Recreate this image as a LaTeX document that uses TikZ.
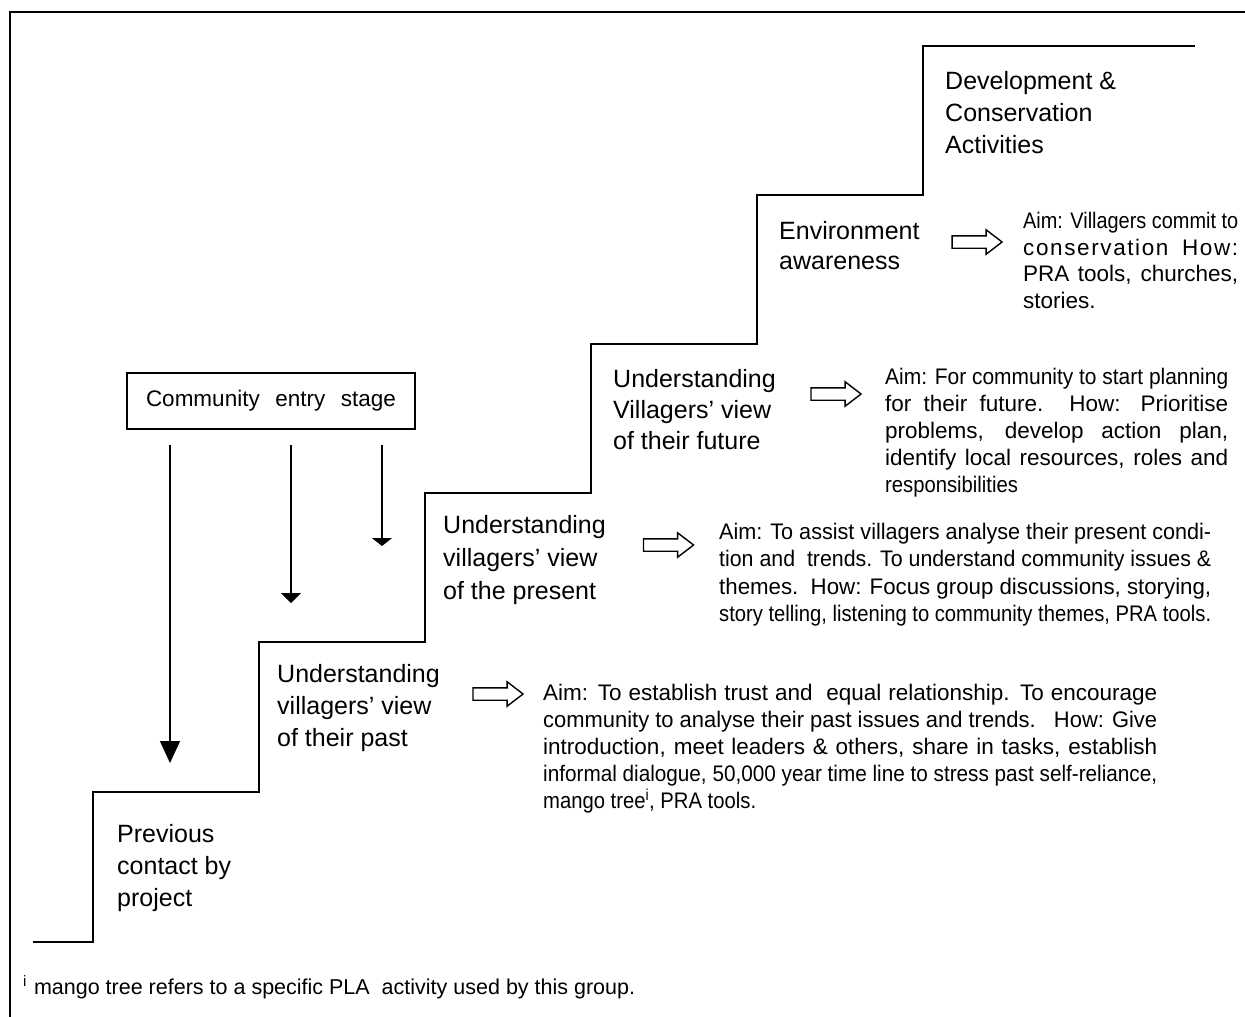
\documentclass[tikz,border=0pt]{standalone}
\usepackage{graphicx}
\usepackage{fontspec}
\setmainfont{Liberation Sans}
\usetikzlibrary{arrows.meta,shapes.arrows}
\newsavebox\jbox
\newcommand\jline[2]{\sbox\jbox{#2}\ifdim\wd\jbox>#1\relax\resizebox{#1}{\height}{\usebox\jbox}\else\makebox[#1][s]{#2}\fi}
\begin{document}
\begin{tikzpicture}[x=1pt,y=-1pt,line join=miter,
  stair/.style={line width=2.5pt},
  frameline/.style={line width=2.8pt},
  steplabel/.style={anchor=north west,inner sep=0pt,align=left,font=\fontsize{25}{32}\selectfont},
  aimtext/.style={anchor=north west,inner sep=0pt,align=left,font=\fontsize{22.5}{27}\selectfont},
  hollow/.style={single arrow,draw,line width=1.4pt,minimum height=50pt,inner sep=5.5pt,
     single arrow head extend=6pt,single arrow tip angle=75,anchor=center},
  thinarrow/.style={line width=1.4pt},
  entrybox/.style={draw,line width=1.6pt,minimum width=288pt,minimum height=56pt,inner sep=0pt,font=\fontsize{22.5}{25}\selectfont}
]
\useasboundingbox (0,0) rectangle (1245,1017);
% frame
\draw[frameline] (1245,12) -- (10,12) -- (10,1017);
% staircase
\draw[stair] (33,942) -- (93,942) -- (93,792) -- (259,792) -- (259,642) -- (425,642)
  -- (425,493) -- (591,493) -- (591,344) -- (757,344) -- (757,195) -- (923,195)
  -- (923,46) -- (1195,46);
% step labels
\node[steplabel] (dev) at (945,71) {Development \&\\Conservation\\Activities};
\node[steplabel,font=\fontsize{25}{30}\selectfont] (env) at (779,221) {Environment\\awareness};
\node[steplabel,font=\fontsize{25}{31}\selectfont] (fut) at (613,369) {Understanding\\Villagers’ view\\of their future};
\node[steplabel,font=\fontsize{25}{33}\selectfont] (pres) at (443,515) {Understanding\\villagers’ view\\of the present};
\node[steplabel] (past) at (277,664) {Understanding\\villagers’ view\\of their past};
\node[steplabel] (prev) at (117,824) {Previous\\contact by\\project};
% hollow arrows
\node[hollow] (harrEnv) at (973,242) {};
\node[hollow] (harrFut) at (832,394) {};
\node[hollow] (harrPres) at (664.5,545) {};
\node[hollow] (harrPast) at (494,694) {};
% aims
\node[aimtext,font=\fontsize{22.5}{26.5}\selectfont] (aimEnv) at (1023,212) {%
\jline{215pt}{Aim: Villagers commit to}\\
\hbox to 215pt{c\hfill o\hfill n\hfill s\hfill e\hfill r\hfill v\hfill a\hfill t\hfill i\hfill o\hfill n\hskip 12pt plus 1fill H\hfill o\hfill w\hfill :}\\
\jline{215pt}{PRA tools, churches,}\\
stories.};
\node[aimtext] (aimFut) at (885,368) {%
\jline{343pt}{Aim: For community to start planning}\\
\jline{343pt}{for their future. How: Prioritise}\\
\jline{343pt}{problems, develop action plan,}\\
\jline{343pt}{identify local resources, roles and}\\
\scalebox{0.9}[1]{responsibilities}};
\node[aimtext,font=\fontsize{22.5}{27.3}\selectfont] (aimPres) at (719,523) {%
\jline{492pt}{Aim: To assist villagers analyse their present condi-}\\
\jline{492pt}{tion and\ \ trends. To understand community issues \&}\\
\jline{492pt}{themes.\ \ How: Focus group discussions, storying,}\\
\jline{492pt}{story telling, listening to community themes, PRA tools.}};
\node[aimtext] (aimPast) at (543,684) {%
\jline{614pt}{Aim: To establish trust and\ \ equal relationship. To encourage}\\
\jline{614pt}{community to analyse their past issues and trends.\ \ \ How: Give}\\
\jline{614pt}{introduction, meet leaders \& others, share in tasks, establish}\\
\jline{614pt}{informal dialogue, 50,000 year time line to stress past self-reliance,}\\
\scalebox{0.9}[1]{mango tree\textsuperscript{i}, PRA tools.}};
% community entry box and arrows
\node[entrybox] (entry) at (271,401) {\makebox[250pt][s]{Community entry stage}};
\coordinate (a1s) at (170,445); \coordinate (a1e) at (170,763);
\coordinate (a2s) at (291,445); \coordinate (a2e) at (291,603);
\coordinate (a3s) at (382,445); \coordinate (a3e) at (382,546);
\draw[thinarrow,-{Triangle[width=20pt,length=22pt]}] (a1s) -- (a1e);
\draw[thinarrow,-{Triangle[width=20pt,length=10pt]}] (a2s) -- (a2e);
\draw[thinarrow,-{Triangle[width=20pt,length=8pt]}] (a3s) -- (a3e);
% footnote
\node[anchor=base west,inner sep=0pt,font=\fontsize{21.5}{25}\selectfont] (foot) at (23,994)
  {\textsuperscript{i}\hspace{7pt}mango tree refers to a specific PLA\ \ activity used by this group.};
\end{tikzpicture}
\end{document}
